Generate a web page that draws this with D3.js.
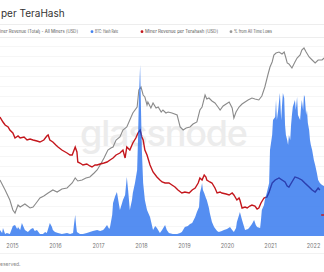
<!DOCTYPE html>
<html>
<head>
<meta charset="utf-8">
<script src="https://cdn.jsdelivr.net/npm/d3@7"></script>
<style>
  body { margin: 0; background: #fff; }
  svg { display: block; font-family: Inter, 'Open Sans', sans-serif; }
</style>
</head>
<body>
<div id="chart"></div>
<script>
// values, [decimal year, value]
const yearTicks = [2015, 2016, 2017, 2018, 2019, 2020, 2021, 2022]

// the reference is a crop of a wider chart: only these parts of the texts show
const titleText = 'per TeraHash'
const footerText = 'eserved.'
const legendItems = [
  { label: 'iner Revenue (Total) - All Miners [USD]', color: null },
  { label: 'BTC: Hash Rate', color: '#4282f0' },
  { label: 'Miner Revenue per Terahash [USD]', color: '#c4161c' },
  { label: '% from All Time Lows', color: '#999999' },
]

const hashRate = [
  [2014.72,3],[2014.77,1.5],[2014.79,4],[2014.84,1],[2014.88,1.5],[2014.95,1],[2015.02,5],[2015.07,5.5],
  [2015.12,3.5],[2015.14,4.5],[2015.19,3],[2015.23,6.5],[2015.28,4],[2015.30,3],[2015.37,2],[2015.44,3.5],
  [2015.49,4],[2015.53,2.5],[2015.58,3],[2015.65,1],[2015.72,1],[2015.77,2],[2015.81,1.5],[2015.86,5],
  [2015.88,6.5],[2015.93,4.5],[2015.95,3],[2016.00,2],[2016.07,1.5],[2016.16,1],[2016.28,1.5],[2016.35,1],
  [2016.42,1.5],[2016.44,5.5],[2016.47,10.5],[2016.49,5.5],[2016.51,2],[2016.58,1],[2016.65,1],[2016.74,1.5],
  [2016.81,2],[2016.88,2.5],[2016.98,3],[2017.05,2.5],[2017.12,3],[2017.16,4],[2017.21,5.5],[2017.26,3.5],
  [2017.28,4.5],[2017.33,10.5],[2017.35,16.5],[2017.40,20],[2017.44,22],[2017.49,15.5],[2017.51,13],[2017.56,16.5],
  [2017.58,18],[2017.63,20.5],[2017.67,29.5],[2017.70,23],[2017.74,13],[2017.79,18],[2017.81,21.5],[2017.86,26.5],
  [2017.91,33],[2017.93,48],[2017.95,68],[2017.98,85.5],[2018.00,63],[2018.02,43],[2018.05,26.5],[2018.09,18],
  [2018.14,13],[2018.21,9.5],[2018.28,3],[2018.33,5],[2018.37,4],[2018.44,1.5],[2018.49,3],[2018.56,5.5],
  [2018.60,3],[2018.65,1.5],[2018.74,1],[2018.84,1],[2018.91,1.5],[2018.95,2],[2019.02,4.5],[2019.09,5],
  [2019.14,6],[2019.19,6.5],[2019.26,9.5],[2019.30,12],[2019.35,14.5],[2019.37,21.5],[2019.40,24],[2019.42,26.5],
  [2019.44,23],[2019.47,21.5],[2019.51,19],[2019.53,18],[2019.58,14],[2019.60,11.5],[2019.65,7],[2019.70,4.5],
  [2019.77,2.5],[2019.81,2],[2019.88,2.5],[2019.93,3],[2020.00,3.5],[2020.07,4.5],[2020.12,3],[2020.16,2],
  [2020.21,4],[2020.23,7],[2020.28,10.5],[2020.30,12],[2020.35,8],[2020.42,3],[2020.49,3.5],[2020.53,4.5],
  [2020.58,6],[2020.63,8],[2020.67,5.5],[2020.70,4.5],[2020.77,4],[2020.79,8],[2020.81,13],[2020.86,15.5],
  [2020.88,18],[2020.93,22],[2020.98,26.5],[2021.00,43],[2021.05,50.5],[2021.07,58],[2021.12,59.5],[2021.14,68],
  [2021.16,58],[2021.19,63],[2021.23,71.5],[2021.26,58],[2021.28,65.5],[2021.30,71.5],[2021.33,69],[2021.35,55.5],
  [2021.37,50.5],[2021.40,48],[2021.42,45.5],[2021.44,50.5],[2021.47,48],[2021.49,55.5],[2021.51,60.5],[2021.53,64.5],
  [2021.58,68],[2021.60,63],[2021.63,69.5],[2021.65,60.5],[2021.70,58],[2021.72,64],[2021.74,68],[2021.77,63],
  [2021.79,70.5],[2021.81,69.5],[2021.84,60.5],[2021.86,63],[2021.88,56.5],[2021.91,53],[2021.93,48],[2021.95,45.5],
  [2021.98,43],[2022.02,38],[2022.05,35.5],[2022.09,31.5],[2022.12,28],[2022.16,26.5],[2022.21,25.5],[2022.26,25],
]

const revenuePerTH = [
  [2014.72,59.5],[2014.79,57],[2014.84,55.5],[2014.91,54.5],[2014.95,53],[2015.02,51.5],[2015.07,49],[2015.14,50],
  [2015.19,49],[2015.28,49.5],[2015.35,48],[2015.42,48.5],[2015.49,48],[2015.58,47.5],[2015.65,47],[2015.74,48],
  [2015.81,50],[2015.84,50.5],[2015.88,48],[2015.95,47],[2016.02,45.5],[2016.07,44.5],[2016.16,43],[2016.28,41.5],
  [2016.35,40.5],[2016.40,40.5],[2016.47,44.5],[2016.51,42],[2016.53,37],[2016.58,36.5],[2016.65,35.5],[2016.74,36],
  [2016.81,35],[2016.86,34.5],[2016.93,35.5],[2016.98,35.5],[2017.05,36],[2017.14,36.5],[2017.21,37],[2017.28,38],
  [2017.35,39],[2017.42,40.5],[2017.51,41.5],[2017.58,43],[2017.63,39],[2017.67,44.5],[2017.74,43],[2017.81,46.5],
  [2017.88,49],[2017.93,51.5],[2017.98,53],[2018.02,49.5],[2018.05,48],[2018.09,43],[2018.14,40.5],[2018.21,35.5],
  [2018.28,32],[2018.37,29.5],[2018.44,28],[2018.49,27],[2018.56,26.5],[2018.65,26.5],[2018.72,25.5],[2018.79,24.5],
  [2018.86,23],[2018.95,21.5],[2019.02,22],[2019.12,21.5],[2019.19,23],[2019.26,24],[2019.33,26.5],[2019.37,29],
  [2019.42,28],[2019.47,30.5],[2019.51,29.5],[2019.53,28],[2019.60,27],[2019.65,26.5],[2019.72,24],[2019.77,21.5],
  [2019.84,22],[2019.88,21.5],[2019.98,21],[2020.05,20.5],[2020.12,21.5],[2020.16,20.5],[2020.23,18],[2020.28,19],
  [2020.30,18],[2020.35,14],[2020.42,14.5],[2020.47,14],[2020.53,15],[2020.58,15.5],[2020.65,15],[2020.70,13.5],
  [2020.74,14],[2020.79,16.5],[2020.86,19],[2020.93,19.5],[2020.98,22],[2021.05,26.5],[2021.12,28],[2021.21,29],
  [2021.28,28],[2021.35,27],[2021.40,25],[2021.44,24.5],[2021.51,27],[2021.58,29.5],[2021.65,29],[2021.74,28],
  [2021.81,26.5],[2021.91,24.5],[2021.98,23],[2022.05,22],[2022.12,24],[2022.16,23],
]
// last few days, drawn over the hash-rate area
const revenuePerTHTail = [[2022.19,10.5],[2022.26,10.5]]

const fromLows = [
  [2014.72,28],[2014.84,23],[2014.95,18],[2015.02,13],[2015.07,11.5],[2015.14,15.5],[2015.19,14.5],[2015.30,16],
  [2015.42,14],[2015.49,14.5],[2015.58,17],[2015.65,19],[2015.74,20],[2015.84,21.5],[2015.95,23],[2016.05,22],
  [2016.16,23.5],[2016.28,24],[2016.40,26.5],[2016.47,29],[2016.53,27.5],[2016.63,28],[2016.72,29],[2016.81,29.5],
  [2016.91,31.5],[2016.98,33],[2017.05,35.5],[2017.14,39],[2017.23,43],[2017.30,44],[2017.35,44.5],[2017.42,48],
  [2017.51,49.5],[2017.58,53],[2017.67,54.5],[2017.74,58],[2017.81,61.5],[2017.91,64.5],[2017.95,73],[2018.00,74.5],
  [2018.05,70.5],[2018.09,69.5],[2018.14,65.5],[2018.16,67],[2018.23,64],[2018.28,66.5],[2018.35,64],[2018.40,64.5],
  [2018.47,62],[2018.51,63],[2018.58,61.5],[2018.63,62],[2018.72,61.5],[2018.84,60.5],[2018.91,54.5],[2018.98,53],
  [2019.05,54],[2019.14,54.5],[2019.21,56],[2019.30,57],[2019.37,63],[2019.42,64.5],[2019.49,70.5],[2019.53,68.5],
  [2019.58,69],[2019.65,67.5],[2019.72,66.5],[2019.79,64.5],[2019.84,63],[2019.91,65],[2019.98,66],[2020.05,67],
  [2020.12,64],[2020.16,59],[2020.21,62],[2020.28,64.5],[2020.35,66],[2020.42,67],[2020.49,68],[2020.58,69],
  [2020.65,68.5],[2020.74,68],[2020.81,70],[2020.88,74.5],[2020.95,80.5],[2021.00,84.5],[2021.05,87],[2021.09,90.5],
  [2021.14,91.5],[2021.21,92],[2021.28,91],[2021.33,92],[2021.37,89],[2021.40,86.5],[2021.44,86],[2021.51,84],
  [2021.58,87],[2021.63,89],[2021.70,90.5],[2021.74,93],[2021.79,94],[2021.84,92],[2021.91,89.5],[2021.98,88],
  [2022.05,86.5],[2022.12,88],[2022.21,88],[2022.26,89],
]

const width = 324, height = 272
const plotTop = 40, plotBottom = 236

const svg = d3.select('#chart').append('svg')
  .attr('width', width)
  .attr('height', height)

const x = d3.scaleLinear()
  .domain([2015 - 12 / 43, 2015 + 312 / 43])
  .range([0, width])

const y = d3.scaleLinear()
  .domain([0, 98])
  .range([plotBottom, plotTop])

svg.append('text')
  .attr('x', 1).attr('y', 17)
  .attr('font-size', 10)
  .attr('fill', '#333')
  .text(titleText)

// legend box
svg.append('line').attr('x1', 0).attr('x2', width).attr('y1', 24.5).attr('y2', 24.5)
  .attr('stroke', '#ededed')
svg.append('line').attr('x1', 0).attr('x2', width).attr('y1', 37.5).attr('y2', 37.5)
  .attr('stroke', '#ededed')

const legendX = [0, 95, 145, 234]
const legendW = [78, 23, 73, 38] // measured widths of the labels
const legend = svg.append('g').attr('font-size', 4.3).attr('fill', '#555')
legendItems.forEach((item, i) => {
  const g = legend.append('g')
  if (item.color) {
    g.append('circle').attr('cx', legendX[i] - 3).attr('cy', 31.7).attr('r', 1.4).attr('fill', item.color)
  }
  g.append('text')
    .attr('x', legendX[i]).attr('y', 33.3)
    .attr('textLength', legendW[i])
    .attr('lengthAdjust', 'spacingAndGlyphs')
    .text(item.label)
})

// grid
svg.append('g')
  .selectAll('line')
  .data(d3.range(5, 98, 5))
  .join('line')
  .attr('x1', 0).attr('x2', width)
  .attr('y1', d => Math.round(y(d)) + 0.5).attr('y2', d => Math.round(y(d)) + 0.5)
  .attr('stroke', '#f6f6f6')

// watermark
svg.append('text')
  .attr('x', 164).attr('y', 146)
  .attr('text-anchor', 'middle')
  .attr('font-size', 36)
  .attr('font-weight', 500)
  .attr('textLength', 168)
  .attr('fill', '#ececec')
  .text('glassnode')

const line = d3.line()
  .x(d => x(d[0]))
  .y(d => y(d[1]))

svg.append('path')
  .datum(fromLows)
  .attr('fill', 'none')
  .attr('stroke', '#8a8a8a')
  .attr('stroke-width', 1.1)
  .attr('d', line)

svg.append('path')
  .datum(revenuePerTH)
  .attr('fill', 'none')
  .attr('stroke', '#c4161c')
  .attr('stroke-width', 1.4)
  .attr('d', line)

const area = d3.area()
  .x(d => x(d[0]))
  .y0(y(0))
  .y1(d => y(d[1]))

svg.append('clipPath').attr('id', 'hash-clip')
  .append('path').datum(hashRate).attr('d', area)

svg.append('path')
  .datum(hashRate)
  .attr('fill', '#4282f0')
  .attr('fill-opacity', 0.9)
  .attr('d', area)

// the red line shows through the area as a dark navy line
svg.append('path')
  .datum(revenuePerTH)
  .attr('clip-path', 'url(#hash-clip)')
  .attr('fill', 'none')
  .attr('stroke', '#2a3fb0')
  .attr('stroke-width', 1.3)
  .attr('d', line)

svg.append('path')
  .datum(revenuePerTHTail)
  .attr('fill', 'none')
  .attr('stroke', '#c4161c')
  .attr('stroke-width', 1.4)
  .attr('d', line)

// x axis
const xAxis = svg.append('g')
  .attr('transform', `translate(0,${plotBottom + 5})`)
  .call(d3.axisBottom(x).tickValues(yearTicks).tickFormat(d3.format('d')).tickSize(0))
xAxis.select('.domain').remove()
xAxis.selectAll('text')
  .attr('font-family', 'Inter, sans-serif')
  .attr('font-size', 5.5)
  .attr('fill', '#777')

svg.append('line').attr('x1', 0).attr('x2', width).attr('y1', 253.5).attr('y2', 253.5)
  .attr('stroke', '#f2f2f2')

svg.append('text')
  .attr('x', 0).attr('y', 266)
  .attr('font-size', 5)
  .attr('fill', '#888')
  .text(footerText)
</script>
